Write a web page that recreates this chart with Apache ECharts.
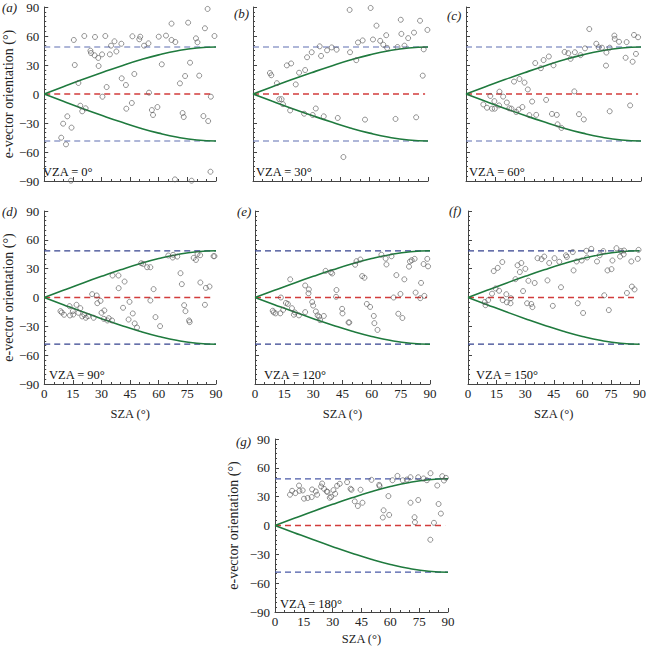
<!DOCTYPE html>
<html><head><meta charset="utf-8">
<script src="https://cdn.jsdelivr.net/npm/echarts@6/dist/echarts.min.js"></script>
<style>html,body{margin:0;padding:0;background:#fff}#c{width:649px;height:646px}</style>
</head><body><div id="c"></div>
<script>
// ---- data ----
const xTicks = [0, 15, 30, 45, 60, 75, 90];
const yTicks = [-90, -60, -30, 0, 30, 60, 90];
const snellLimit = 48.6;
const curveX = [0, 10, 20, 30, 40, 50, 60, 70, 80, 90];
const curveY = [0, 7.5, 14.9, 22.0, 28.8, 35.1, 40.5, 44.8, 47.6, 48.6];
const panelLetters = ['(a)', '(b)', '(c)', '(d)', '(e)', '(f)', '(g)'];
const vzaLabels = ['VZA = 0°', 'VZA = 30°', 'VZA = 60°', 'VZA = 90°', 'VZA = 120°', 'VZA = 150°', 'VZA = 180°'];

const ptsA = [[15.5,55.9],[16,30],[17.9,11.4],[21,60],[26.6,59],[32,60],[24.2,44.8],[24.5,42.4],[26.4,40],[28.3,37.3],[28.5,29],[30.3,41],[30.5,-2.8],[32.7,7.2],[34.4,41],[35,50],[36.8,54.5],[37.8,44],[40.4,52],[40.6,16.2],[42.8,9.3],[43,-15.2],[45.9,-9.3],[46.2,59.7],[47.2,20.7],[49.8,56.6],[50.3,59.3],[52.3,50],[54.6,52.4],[54.9,1.4],[56.4,-16.6],[57,-21.7],[59.3,-13.5],[60,59.3],[61.6,30.7],[63.8,60.4],[66.7,72.8],[66.7,55.9],[68.7,53.8],[71.1,11],[72.5,-19.7],[73.1,-23.8],[73.8,18.6],[75.4,73.8],[76.4,32.4],[79.5,57.6],[80.3,53.5],[81.2,19],[83.4,-22.8],[84.2,68],[85.6,88],[85.9,-28],[87.3,-2.8],[89.2,60],[87.1,-80.4],[68.5,-88.3],[77.2,-89.7],[14,-89.7],[8.9,-45.2],[9.9,-30.7],[11.4,-52.1],[12.1,-23.1],[14.3,-34.8],[18.9,-12.1],[19.9,-17.9],[21.7,-14.8]];
const ptsB = [[8.7,21.7],[9.4,19.4],[12.3,11.2],[13.5,-5.4],[14.7,-5.4],[15.4,-10.5],[17.4,29.6],[19.6,31.6],[19.1,-17],[22,9.9],[23.7,22],[26.8,24.8],[26.3,-20.4],[27.8,38],[30.2,43.2],[30.7,-21.7],[32.3,-15],[34.3,49.3],[35,39.4],[36.4,-23.1],[38.1,45.2],[40.5,48.2],[43,45.9],[43.6,-24.8],[46.5,-65.2],[49.7,87],[49.9,43.2],[53.1,35],[54,53.3],[56.4,55.4],[57.6,-26.5],[60.5,89],[61.7,56.4],[63.5,70.7],[65.4,55],[67,51],[68.5,60.8],[69,47.6],[73.3,-25.8],[74.3,48.6],[76,76.8],[76.3,62.2],[77.9,50],[79.8,57.8],[82.8,63.5],[83.9,-24.1],[85.9,75.8],[87.3,19],[87.8,46.2],[89.7,66.3]];
const ptsC = [[8.9,-10.8],[10.8,-14.2],[12.5,-2],[13.4,-15.2],[14.8,-15.2],[14.6,-7.4],[17,-11.8],[17.2,2.4],[19.1,-2.7],[21,-8.8],[22.3,-14.8],[23.4,-15.2],[24.7,12.8],[27.5,15.5],[30.1,11.8],[25.8,-18.6],[27,-16.2],[29,-13.5],[31.8,4.7],[32.6,-21.9],[34,-7.8],[35.6,32],[36.1,-21.6],[38.5,26.7],[39.9,35.1],[41.2,-6.1],[42.6,38.8],[44.2,-20.6],[45,29.7],[46.7,-21.6],[47.1,-31.4],[49.1,-35.1],[50.7,43.5],[52.6,42.2],[53.8,36.4],[55.7,2.7],[56,43.2],[58.1,-20.9],[58.9,40.2],[60.6,-26.3],[61.2,47.2],[63.4,67.2],[67,52],[68.2,48.3],[69.9,47.9],[72,29.4],[72.2,42.9],[73.9,-17.9],[73.9,47.9],[76.3,60.4],[76.5,57],[78.7,54],[82.1,37.5],[82.6,53.7],[84.4,-11.8],[85.7,33.4],[86.4,61.1],[87.4,41.5],[88.5,58.7]];
const ptsD = [[8.5,-14.2],[9.2,-15.6],[10.4,-18],[13.3,-9],[13.5,-18.7],[15,-14.2],[15.2,-17.7],[16.9,-7.6],[17.9,-15.9],[18.9,-11.1],[19.9,-19.7],[21,-18],[21.8,-21.1],[23,-19.4],[25.1,3.5],[25.9,-21.1],[27.5,2.1],[27.8,-5.9],[29.5,-3.5],[30,-15.9],[31.2,-22.2],[31.5,-13.5],[33.1,-23.9],[33.8,-21.5],[35.5,-23.9],[35.8,22.9],[38.9,22.9],[39,9.7],[41.3,-10.7],[42.1,16.6],[44.2,-22.9],[44.7,-4.5],[46.4,-16.6],[47.4,-27],[48.6,-31.2],[50.8,35.7],[51.8,35],[53.9,31.5],[55.6,31.5],[55.6,-3.1],[57.3,8.7],[58.3,-20.4],[60.7,-29.8],[65,43.7],[67.3,41.6],[67.5,44.4],[69.7,42.6],[71.4,25.3],[72.1,13.9],[73.3,-8],[74,-14.2],[75.9,-23.9],[76.2,-25.6],[78.3,41.2],[79.5,39.1],[80.3,45.3],[81.7,44],[81.8,15.6],[84.2,-7.6],[84.7,10],[86.6,11.4],[88.7,43],[89.2,43]];
const ptsE = [[9.1,-13.8],[9.6,-15.5],[10.6,-16.5],[13,-16.5],[13.3,0],[14.5,-12.8],[15.9,-5.7],[16.9,-6.7],[18.1,18.9],[19,-11.1],[20,-17.9],[20.5,-15.5],[22.6,-18.6],[25.8,12.5],[25.8,-15.2],[27.7,8.4],[27.5,4.4],[29.4,-4.7],[29.9,-8.4],[31.3,-14.5],[32.2,-18.6],[33,-19.9],[33.5,-23.6],[35.4,-19.2],[36.3,27.7],[39,26.3],[39.7,25],[41.9,7.8],[41.7,0.7],[44.8,-11.8],[45,-16.5],[48.1,-26],[48.5,-26],[51.5,34.1],[52.2,37.8],[54.2,39.5],[55.1,22.3],[56.3,20.6],[57.5,-6.7],[59.2,-9.8],[61.1,-19.2],[61.4,-26.7],[63,-33.7],[65,44.5],[67.2,40.5],[67.6,34.4],[70.2,42.9],[71.3,0],[72.7,23.3],[73.7,-16.9],[74.8,3.7],[75.8,-21.3],[76.8,18.9],[79.2,32.1],[79.7,37.5],[80.6,38.8],[82.1,40.2],[82.6,5.1],[85,-0.7],[85.4,15.2],[86.7,34.8],[87.1,1.7],[88.6,40.2],[89,32.4]];
const ptsF = [[8.8,-4.7],[9.2,-8],[10.6,-2.7],[12.6,4],[13.5,27.5],[14.5,9.4],[15.6,30.8],[16.3,7],[18,36.9],[18.2,-2.7],[20.1,3.4],[20.4,-5],[22.3,-6],[22.5,-0.7],[24.9,19.1],[26,33.5],[28,35.9],[27.2,26.5],[28.9,6.7],[30.1,29.8],[31,-6],[31.7,17.4],[33.2,-6.7],[33.8,-10],[35,15.1],[36.5,40.9],[38.6,39.9],[40,42.6],[41.7,17.8],[42.6,35.9],[44.5,-8.7],[45.4,40.9],[47.9,37.2],[48.8,10.7],[51.4,43.9],[51.9,42.2],[55,47.3],[55.4,28.2],[57,37.5],[57.6,-6],[59.7,38.5],[60.4,-16.1],[62.1,48.6],[64.7,50.6],[62.5,41.6],[67.7,37.5],[69.1,43.9],[71,48.3],[71.5,2.3],[73.2,28.2],[73.9,-13.1],[75.3,29.5],[75.8,38.5],[77.9,51.3],[79.8,42.6],[80.3,48.3],[81.7,44.9],[81.9,48.9],[83.4,4.7],[85.7,37.5],[86,11.4],[87.4,8.4],[89.5,49.6],[89.1,40.2]];
const ptsG = [[7.8,32],[8.9,36.1],[10.6,33.7],[12.5,41.6],[12.7,36.1],[14.4,36.5],[15.1,27.9],[17,28.6],[19.1,29.6],[19.3,37.5],[21.2,35.4],[21.9,32],[24,40.6],[24.5,43.7],[25.5,38.2],[26.9,35.4],[27.3,35],[28.5,28.9],[29.2,29.9],[30.4,36.8],[31.3,33],[32.3,41.3],[33.7,43.4],[37.5,45.1],[39.3,38.2],[39.8,37.2],[41.5,25.1],[43.1,20.3],[44.5,37.2],[45.5,23.7],[50.2,47.5],[54.2,42.3],[54.4,41],[56.1,8.3],[56.5,15.8],[59,30.6],[59.4,11],[61.1,47.1],[63.7,51.6],[66.5,47.1],[68.6,47.8],[70.5,23.7],[70.5,50.2],[72.6,8.6],[72.8,3.4],[74.5,26.5],[74.5,50.2],[77.3,48.9],[79,47.1],[80.8,-14.8],[80.9,54.4],[82.7,2.8],[84.4,41.6],[85.1,22.4],[86.3,12.4],[87,51.3],[87.9,46.8],[88.9,49.6]];
const allPts = [ptsA, ptsB, ptsC, ptsD, ptsE, ptsF, ptsG];

// ---- layout (pixels) ----
const panels = [
  {l:40,  t:7,   w:176, h:174, xl:false, yl:true,  yGap:27, vx:3, blue:'#5f6fb2'},
  {l:253, t:7,   w:175, h:174, xl:false, yl:false, vx:3, blue:'#5f6fb2'},
  {l:466, t:7,   w:175, h:174, xl:false, yl:false, vx:3, blue:'#5f6fb2'},
  {l:40,  t:211, w:176, h:173, xl:true,  yl:true,  yGap:27, xGap:23, vx:9, blue:'#34428e'},
  {l:255, t:211, w:175, h:173, xl:true,  yl:false, xGap:23, vx:9, blue:'#34428e'},
  {l:468, t:211, w:174, h:173, xl:true,  yl:false, xGap:23, vx:8, blue:'#34428e'},
  {l:275, t:439, w:173, h:174, xl:true,  yl:true,  yGap:35, xGap:20, vx:5, blue:'#4a5aa8'}
];
const letterPos = [[2,8],[234,14],[447,16],[2,212],[237,212],[449,211],[236,442]];

const FONT = 'Liberation Serif, Times New Roman, serif';
const AX = '#444';
const TXT = '#222';
const RED = '#d23c3c';
const GREEN = '#1f7a3e';
const fmt = v => String(v).replace('-', '\u2212');

const grid = [], xAxis = [], yAxis = [], series = [], graphic = [];
panels.forEach((p, i) => {
  grid.push({left:p.l, top:p.t, width:p.w, height:p.h, containLabel:false});
  xAxis.push({
    type:'value', gridIndex:i, min:xTicks[0], max:xTicks[xTicks.length-1], interval:15,
    axisLine:{show:true, onZero:false, lineStyle:{color:AX, width:1}},
    axisTick:{show:true, inside:true, length:4, lineStyle:{color:AX}},
    minorTick:{show:true, splitNumber:3, length:2, lineStyle:{color:AX}},
    splitLine:{show:false},
    axisLabel:{show:p.xl, fontFamily:FONT, fontSize:13, color:TXT, margin:3, formatter:fmt},
    name:p.xl ? 'SZA (°)' : '', nameLocation:'middle', nameGap:p.xGap || 23,
    nameTextStyle:{fontFamily:FONT, fontSize:12.5, color:TXT}
  });
  yAxis.push({
    type:'value', gridIndex:i, min:yTicks[0], max:yTicks[yTicks.length-1], interval:30,
    axisLine:{show:true, onZero:false, lineStyle:{color:AX, width:1}},
    axisTick:{show:true, inside:true, length:4, lineStyle:{color:AX}},
    minorTick:{show:true, splitNumber:6, length:2, lineStyle:{color:AX}},
    splitLine:{show:false},
    axisLabel:{show:p.yl, fontFamily:FONT, fontSize:13, color:TXT, margin:5, formatter:fmt},
    name:p.yl ? 'e-vector orientation (°)' : '', nameLocation:'middle', nameGap:p.yGap || 27, nameRotate:90,
    nameTextStyle:{fontFamily:FONT, fontSize:14, color:TXT}
  });
  const lineBase = {type:'line', xAxisIndex:i, yAxisIndex:i, symbol:'none', silent:true, animation:false, emphasis:{disabled:true}};
  series.push(Object.assign({}, lineBase, {z:3, data:[[0,snellLimit],[90,snellLimit]], color:p.blue, lineStyle:{color:p.blue, width:1.2, type:[6,4]}}));
  series.push(Object.assign({}, lineBase, {z:3, data:[[0,-snellLimit],[90,-snellLimit]], color:p.blue, lineStyle:{color:p.blue, width:1.2, type:[6,4]}}));
  series.push(Object.assign({}, lineBase, {z:4, data:[[0,0],[88.5,0]], color:RED, itemStyle:{color:RED}, lineStyle:{color:RED, width:1.3, type:[6,4]}}));
  series.push(Object.assign({}, lineBase, {z:5, smooth:true, data:curveX.map((x,k)=>[x, curveY[k]]), color:GREEN, lineStyle:{color:GREEN, width:1.6}}));
  series.push(Object.assign({}, lineBase, {z:5, smooth:true, data:curveX.map((x,k)=>[x, -curveY[k]]), color:GREEN, lineStyle:{color:GREEN, width:1.6}}));
  series.push({type:'scatter', xAxisIndex:i, yAxisIndex:i, z:6, data:allPts[i], symbol:'circle', symbolSize:5, clip:false, animation:false,
    silent:true, itemStyle:{color:'rgba(0,0,0,0)', borderColor:'#555', borderWidth:0.8}});
  graphic.push({type:'text', left:letterPos[i][0], top:letterPos[i][1]-7,
    style:{text:panelLetters[i], fontFamily:FONT, fontStyle:'italic', fontSize:13, fill:TXT}});
  graphic.push({type:'text', left:p.l + p.vx, top:p.t + p.h - 16,
    style:{text:vzaLabels[i], fontFamily:FONT, fontSize:12.5, fill:'#111'}});
});

const chart = echarts.init(document.getElementById('c'), null, {renderer:'svg'});
chart.setOption({animation:false, backgroundColor:'#fff', tooltip:{show:false}, grid, xAxis, yAxis, series, graphic});
</script></body></html>
